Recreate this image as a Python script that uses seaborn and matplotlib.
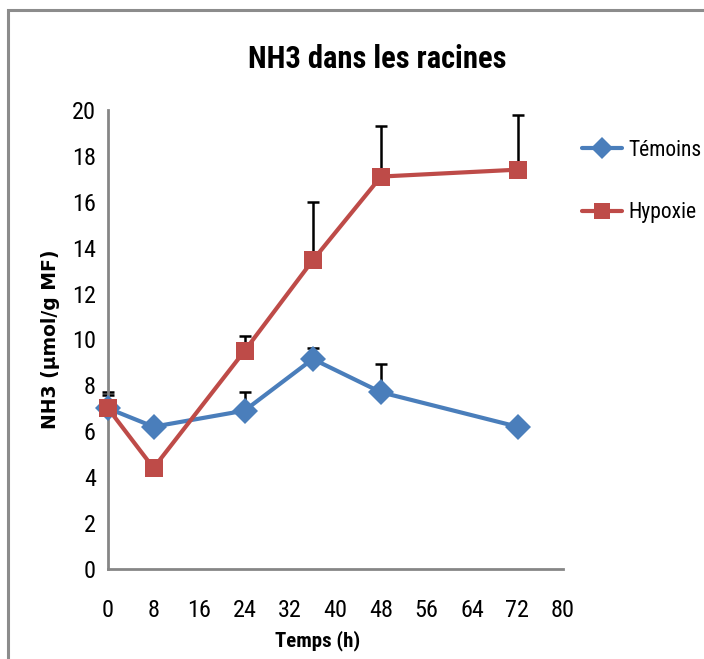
import matplotlib
matplotlib.use("Agg")
import matplotlib.pyplot as plt
import matplotlib.patches as mpatches
import numpy as np
import pandas as pd
import seaborn as sns

# ── Data ──────────────────────────────────────────────────────────────────────
temps = [0, 8, 24, 36, 48, 72]
temoins = [7.0, 6.2, 6.9, 9.15, 7.7, 6.2]
temoins_err = [0.6, 0.0, 0.8, 0.5, 1.25, 0.0]
hypoxie = [7.0, 4.4, 9.5, 13.45, 17.1, 17.4]
hypoxie_err = [0.7, 0.0, 0.65, 2.55, 2.2, 2.4]

groupes = ["Témoins", "Hypoxie"]
couleurs = {"Témoins": "#4A7EBB", "Hypoxie": "#BE4B48"}
marqueurs = {"Témoins": "D", "Hypoxie": "s"}

x_ticks = list(range(0, 81, 8))
y_ticks = list(range(0, 21, 2))

df = pd.DataFrame({
    "temps": temps * 2,
    "nh3": temoins + hypoxie,
    "groupe": ["Témoins"] * len(temps) + ["Hypoxie"] * len(temps),
})

# ── Style ─────────────────────────────────────────────────────────────────────
sns.set_style("white")
narrow = ["Roboto Condensed", "DejaVu Sans"]
plt.rcParams["font.family"] = narrow
plt.rcParams["text.color"] = "black"
plt.rcParams["xtick.color"] = "black"
plt.rcParams["ytick.color"] = "black"
plt.rcParams["axes.labelcolor"] = "black"

W, H = 704, 659
fig = plt.figure(figsize=(W / 100, H / 100), dpi=100)
ax = fig.add_axes([108 / W, 1 - 569 / H, 455 / W, 459 / H])

# error bars first (upper only), behind the markers
for vals, errs in [(temoins, temoins_err), (hypoxie, hypoxie_err)]:
    ax.errorbar(temps, vals, yerr=[np.zeros(len(errs)), errs], fmt="none",
                ecolor="black", elinewidth=1.8, capsize=4.5, capthick=1.8,
                zorder=2, clip_on=False)

sns.lineplot(data=df, x="temps", y="nh3", hue="groupe", style="groupe",
             hue_order=groupes, style_order=groupes, palette=couleurs,
             markers=marqueurs, dashes=False, linewidth=3, markersize=13,
             markeredgewidth=0, sort=False, ax=ax, zorder=3)

for line in ax.lines:
    line.set_clip_on(False)

handles, labels = ax.get_legend_handles_labels()
ax.get_legend().remove()
fig.legend(handles, labels, loc="center left",
           bbox_to_anchor=(582 / W, 1 - 181.5 / H),
           frameon=False, fontsize=15.5, labelspacing=1.95, handlelength=1.86,
           handletextpad=0.3, borderpad=0, borderaxespad=0, markerscale=0.85)

# ── Axes ──────────────────────────────────────────────────────────────────────
ax.set_xlim(0, 80)
ax.set_ylim(0, 20)
ax.set_xticks(x_ticks)
ax.set_yticks(y_ticks)
ax.tick_params(axis="x", direction="out", length=5.5, width=1.5,
               color="#868686", labelsize=17.5, pad=16)
ax.tick_params(axis="y", direction="out", length=4.3, width=1.5,
               color="#868686", labelsize=17.5, pad=4.5)
sns.despine(ax=ax)
for side in ["left", "bottom"]:
    ax.spines[side].set_color("#868686")
    ax.spines[side].set_linewidth(2)

ax.set_xlabel("Temps (h)", fontsize=15, fontweight="bold")
ax.xaxis.set_label_coords((318 - 108) / 455, (569 - 630) / 459)
ax.set_ylabel("NH3 (µmol/g MF)", fontsize=13.5, fontweight="bold",
              family=["DejaVu Sans"])
ax.yaxis.set_label_coords((60 - 108) / 455, 0.5)
fig.text(377 / W, 1 - 68 / H, "NH3 dans les racines", ha="center",
         va="baseline", fontsize=22, fontweight="bold")

# outer chart frame (partially visible like the reference)
fig.patches.append(mpatches.Rectangle((8 / W, -0.05), 1.2, 1.05 - 10 / H,
                                      transform=fig.transFigure, fill=False,
                                      edgecolor="#8C8C8C", linewidth=2.2))

fig.savefig("out.png", dpi=100)
